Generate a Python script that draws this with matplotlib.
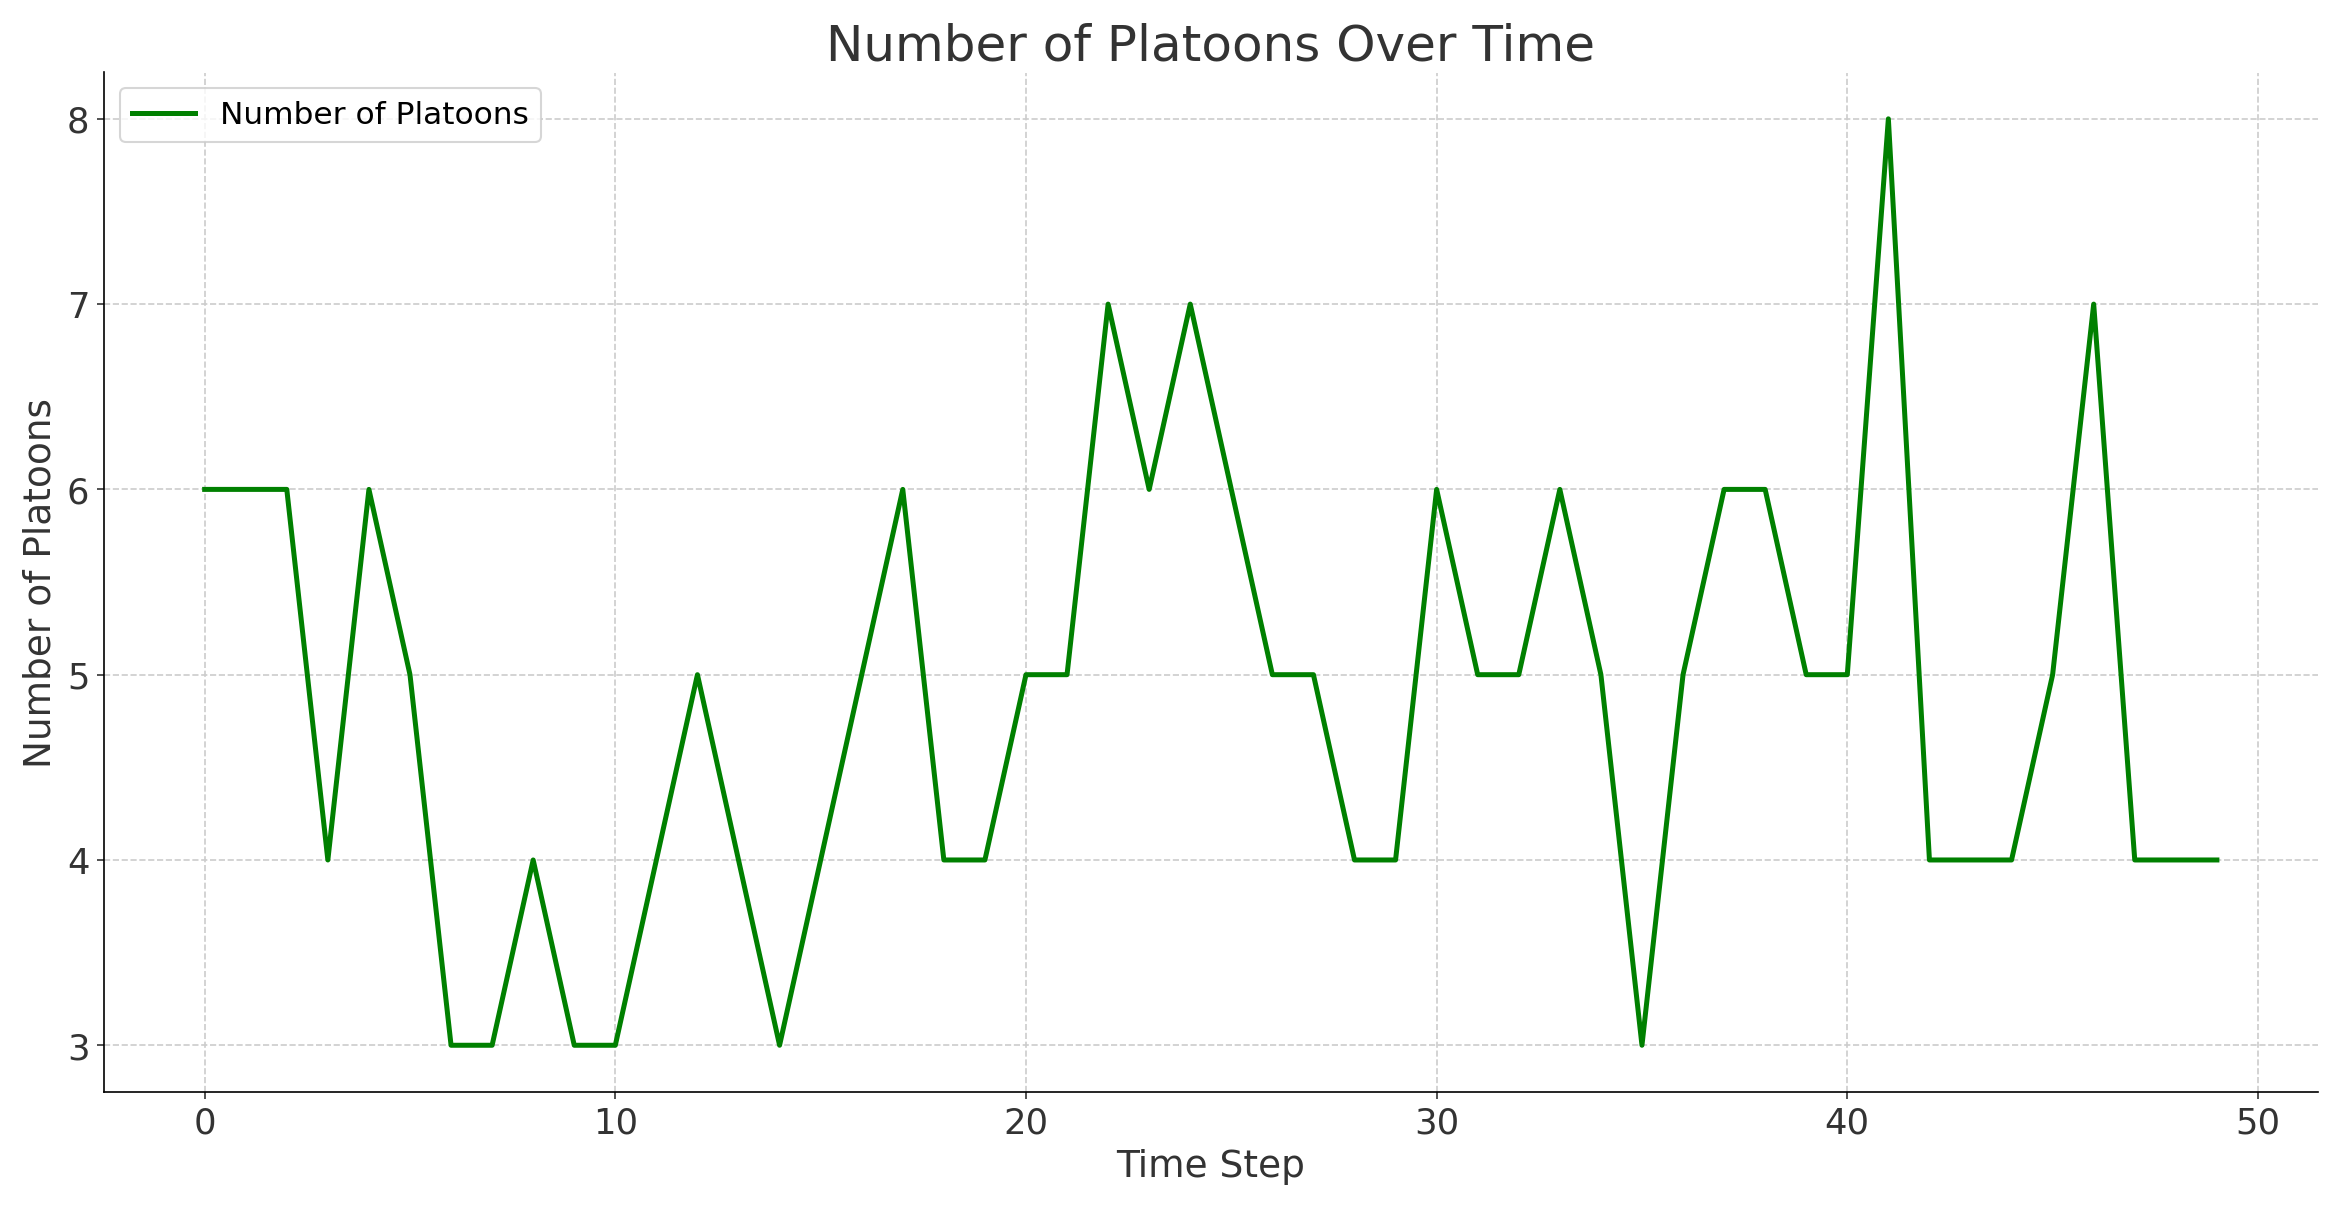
import matplotlib
matplotlib.use("Agg")
import matplotlib.pyplot as plt

time_steps = list(range(50))
platoons = [6,6,6,4,6,5,3,3,4,3,3,4,5,4,3,4,5,6,4,4,5,5,7,6,7,6,5,5,4,4,
            6,5,5,6,5,3,5,6,6,5,5,8,4,4,4,5,7,4,4,4]

plt.rcParams['font.family'] = ['DejaVu Sans']
fig, ax = plt.subplots(figsize=(15.6, 8.05), dpi=150)
ax.plot(time_steps, platoons, color='green', linewidth=2.4, label='Number of Platoons')
ax.set_title('Number of Platoons Over Time', fontsize=24, color='#333333')
ax.set_xlabel('Time Step', fontsize=18, color='#333333')
ax.set_ylabel('Number of Platoons', fontsize=18, color='#333333')
ax.tick_params(labelsize=17, colors='#333333')
ax.set_xticks([0,10,20,30,40,50])
ax.grid(True, linestyle='--', color='#cccccc', linewidth=0.8)
ax.spines['top'].set_visible(False)
ax.spines['right'].set_visible(False)
ax.legend(loc='upper left', fontsize=15)
fig.tight_layout()
fig.savefig('out.png', dpi=150)
